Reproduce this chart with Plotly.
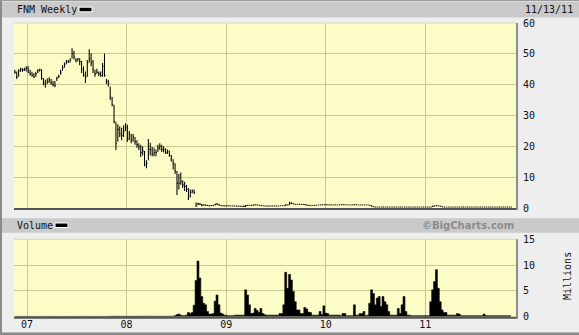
import plotly.graph_objects as go
import pandas as pd

W, H = 579, 335

# ---------------- data (weekly) ----------------
week_start = "2006-11-17"
n_weeks = 261

close = [
    44.0, 42.5, 44.5, 45.0, 44.8, 45.0, 45.3, 44.0, 43.5, 43.0,
    42.5, 43.5, 44.5, 44.8, 42.0, 40.5, 40.0, 41.0, 41.5, 40.5,
    40.0, 39.8, 42.0, 42.7, 44.0, 45.5, 46.5, 47.3, 47.5, 48.0,
    50.0, 49.0, 48.0, 48.5, 47.5, 45.0, 43.0, 42.5, 47.0, 48.5,
    47.0, 45.0, 43.5, 44.0, 43.5, 43.0, 46.0, 43.0, 41.0, 40.5,
    36.0, 33.5, 28.0, 21.0, 25.5, 24.0, 23.5, 25.0, 26.0, 22.5,
    24.0, 22.0, 23.0, 21.5, 20.5, 19.8, 18.0, 18.5, 14.0, 14.5,
    19.0, 19.0, 17.5, 18.0, 18.0, 19.5, 20.0, 19.0, 19.0, 18.0,
    18.5, 17.0, 16.0, 14.5, 12.0, 8.0, 8.0, 8.5, 7.5, 7.0,
    6.0, 3.5, 5.0, 5.5, 5.0, 0.7, 1.4, 1.2, 0.9, 1.0,
    0.9, 0.8, 0.7, 0.8, 0.9, 1.2, 1.3, 1.0, 0.75, 0.7,
    0.7, 0.72, 0.7, 0.65, 0.65, 0.62, 0.65, 0.6, 0.6, 0.55,
    0.5, 0.8, 0.9, 0.9, 0.85, 1.0, 1.0, 1.0, 0.9, 0.7,
    0.7, 0.65, 0.65, 0.65, 0.65, 0.65, 0.65, 0.65, 0.65, 0.7,
    0.7, 0.75, 1.0, 1.0, 1.5, 1.5, 1.3, 1.2, 1.2, 1.2,
    1.2, 1.15, 1.1, 0.9, 0.85, 0.8, 0.8, 0.85, 0.9, 0.95,
    1.0, 1.0, 1.05, 1.0, 1.0, 1.0, 1.0, 1.0, 1.0, 1.0,
    1.0, 1.05, 1.05, 1.0, 1.0, 1.0, 1.0, 1.0, 1.1, 1.0,
    1.0, 1.0, 1.0, 1.0, 1.0, 1.0, 0.9, 0.5, 0.35, 0.32,
    0.3, 0.3, 0.3, 0.32, 0.3, 0.3, 0.3, 0.3, 0.3, 0.3,
    0.3, 0.3, 0.32, 0.3, 0.3, 0.3, 0.3, 0.3, 0.3, 0.3,
    0.3, 0.3, 0.3, 0.3, 0.3, 0.3, 0.3, 0.3, 0.32, 0.6,
    0.7, 0.7, 0.7, 0.6, 0.35, 0.3, 0.3, 0.3, 0.3, 0.3,
    0.3, 0.3, 0.3, 0.3, 0.3, 0.3, 0.3, 0.3, 0.3, 0.3,
    0.3, 0.3, 0.3, 0.3, 0.3, 0.3, 0.3, 0.3, 0.3, 0.3,
    0.3, 0.3, 0.3, 0.3, 0.3, 0.3, 0.3, 0.3, 0.3, 0.3,
    0.3,
]

high = [
    44.8, 44.3, 45.0, 45.5, 45.3, 45.5, 46.0, 46.0, 44.8, 44.2,
    43.8, 44.2, 45.0, 45.2, 45.0, 42.2, 41.6, 42.0, 42.4, 41.8,
    41.2, 41.2, 42.6, 43.2, 44.8, 46.3, 47.2, 48.0, 48.0, 48.6,
    51.8, 51.0, 48.6, 48.6, 48.6, 47.7, 45.9, 44.3, 48.0, 51.5,
    50.2, 48.0, 44.8, 45.2, 44.3, 44.3, 47.0, 50.1, 41.8, 41.6,
    39.4, 36.0, 33.5, 28.0, 27.2, 26.5, 26.0, 26.8, 27.5, 27.0,
    25.0, 24.0, 24.0, 23.0, 22.0, 21.0, 20.5, 20.0, 18.5, 15.5,
    22.4, 21.2, 19.8, 19.5, 19.0, 20.5, 21.0, 20.5, 20.0, 19.4,
    19.0, 18.6, 17.2, 15.8, 14.5, 12.0, 11.0, 11.5, 9.0, 8.5,
    7.5, 6.5, 6.0, 6.0, 6.0, 1.8, 1.7, 1.6, 1.3, 1.2,
    1.1, 1.0, 0.9, 0.95, 1.0, 1.4, 1.6, 1.3, 0.9, 0.8,
    0.8, 0.8, 0.8, 0.75, 0.75, 0.7, 0.7, 0.7, 0.7, 0.65,
    0.8, 1.0, 1.0, 1.0, 1.0, 1.1, 1.1, 1.1, 1.0, 0.9,
    0.75, 0.7, 0.7, 0.7, 0.7, 0.7, 0.7, 0.7, 0.7, 0.75,
    0.75, 0.8, 1.2, 1.1, 2.0, 1.9, 1.5, 1.3, 1.3, 1.3,
    1.3, 1.2, 1.2, 1.1, 0.95, 0.9, 0.85, 0.9, 0.95, 1.0,
    1.05, 1.1, 1.1, 1.2, 1.1, 1.1, 1.1, 1.05, 1.1, 1.05,
    1.05, 1.1, 1.1, 1.1, 1.05, 1.05, 1.05, 1.05, 1.2, 1.1,
    1.05, 1.05, 1.05, 1.05, 1.05, 1.05, 1.0, 0.9, 0.5, 0.4,
    0.35, 0.35, 0.35, 0.38, 0.35, 0.35, 0.35, 0.35, 0.35, 0.35,
    0.35, 0.35, 0.4, 0.35, 0.35, 0.35, 0.35, 0.35, 0.35, 0.35,
    0.35, 0.35, 0.35, 0.35, 0.35, 0.35, 0.35, 0.35, 0.4, 0.7,
    0.8, 0.8, 0.8, 0.7, 0.6, 0.35, 0.35, 0.35, 0.35, 0.35,
    0.35, 0.35, 0.35, 0.35, 0.35, 0.4, 0.35, 0.35, 0.35, 0.35,
    0.35, 0.35, 0.35, 0.35, 0.35, 0.35, 0.35, 0.35, 0.35, 0.35,
    0.35, 0.35, 0.35, 0.35, 0.38, 0.35, 0.35, 0.35, 0.35, 0.35,
    0.35,
]

low = [
    43.5, 41.8, 42.6, 44.2, 44.2, 44.4, 44.3, 43.8, 43.0, 42.6,
    42.2, 42.6, 43.8, 44.3, 41.6, 39.8, 39.0, 40.2, 40.5, 40.0,
    39.4, 39.2, 41.2, 42.2, 43.2, 44.5, 45.5, 46.6, 47.0, 47.2,
    48.5, 48.2, 47.2, 47.5, 46.3, 43.8, 42.6, 40.5, 42.6, 47.2,
    46.0, 43.8, 42.6, 43.5, 42.8, 42.6, 42.6, 42.6, 40.2, 39.4,
    35.0, 33.0, 27.5, 18.8, 21.5, 23.0, 22.0, 23.0, 25.0, 21.5,
    22.0, 21.0, 21.5, 20.5, 19.5, 18.8, 16.5, 17.0, 13.5, 12.9,
    15.5, 17.0, 16.8, 16.8, 16.8, 18.2, 18.8, 18.2, 18.0, 17.5,
    17.5, 16.6, 15.0, 12.5, 11.0, 4.2, 6.0, 7.5, 6.5, 5.5,
    5.2, 2.6, 3.5, 4.8, 4.5, 0.4, 0.9, 1.0, 0.6, 0.8,
    0.7, 0.65, 0.6, 0.65, 0.75, 0.8, 1.0, 0.8, 0.65, 0.6,
    0.6, 0.6, 0.6, 0.58, 0.58, 0.55, 0.55, 0.52, 0.5, 0.45,
    0.35, 0.35, 0.75, 0.8, 0.75, 0.85, 0.9, 0.9, 0.8, 0.65,
    0.62, 0.6, 0.6, 0.6, 0.6, 0.6, 0.6, 0.6, 0.6, 0.62,
    0.62, 0.65, 0.75, 0.9, 1.0, 1.3, 1.2, 1.1, 1.1, 1.1,
    1.1, 1.05, 1.0, 0.85, 0.78, 0.75, 0.75, 0.78, 0.82, 0.88,
    0.95, 0.95, 0.98, 0.95, 0.95, 0.95, 0.95, 0.95, 0.95, 0.95,
    0.95, 0.98, 0.98, 0.95, 0.95, 0.95, 0.95, 0.95, 1.0, 0.95,
    0.95, 0.95, 0.95, 0.95, 0.95, 0.95, 0.8, 0.45, 0.3, 0.28,
    0.27, 0.27, 0.27, 0.28, 0.27, 0.27, 0.27, 0.27, 0.27, 0.27,
    0.27, 0.27, 0.28, 0.27, 0.27, 0.27, 0.27, 0.27, 0.27, 0.27,
    0.27, 0.27, 0.27, 0.27, 0.27, 0.27, 0.27, 0.27, 0.28, 0.3,
    0.55, 0.6, 0.6, 0.45, 0.3, 0.27, 0.27, 0.27, 0.27, 0.27,
    0.27, 0.27, 0.27, 0.27, 0.27, 0.27, 0.27, 0.27, 0.27, 0.27,
    0.27, 0.27, 0.27, 0.27, 0.27, 0.27, 0.27, 0.27, 0.27, 0.27,
    0.27, 0.27, 0.27, 0.27, 0.27, 0.27, 0.27, 0.27, 0.27, 0.27,
    0.27,
]

volume = [  # millions
    0.05, 0.05, 0.06, 0.05, 0.05, 0.05, 0.06, 0.05, 0.05, 0.05,
    0.05, 0.05, 0.05, 0.06, 0.05, 0.06, 0.06, 0.05, 0.05, 0.05,
    0.05, 0.05, 0.05, 0.05, 0.05, 0.05, 0.05, 0.06, 0.05, 0.05,
    0.06, 0.05, 0.05, 0.05, 0.05, 0.06, 0.06, 0.06, 0.05, 0.05,
    0.05, 0.05, 0.05, 0.05, 0.05, 0.05, 0.05, 0.06, 0.06, 0.06,
    0.07, 0.07, 0.08, 0.1, 0.08, 0.07, 0.07, 0.07, 0.07, 0.08,
    0.07, 0.07, 0.07, 0.07, 0.07, 0.08, 0.1, 0.08, 0.1, 0.1,
    0.1, 0.08, 0.08, 0.08, 0.08, 0.08, 0.08, 0.08, 0.08, 0.08,
    0.1, 0.1, 0.1, 0.1, 0.2, 0.4, 0.5, 0.3, 0.2, 0.2,
    0.3, 0.8, 0.6, 0.8, 2.2, 7.0, 10.8, 7.5, 3.9, 2.6,
    2.3, 1.0, 0.5, 0.5, 0.6, 3.0, 4.2, 2.3, 0.7, 0.5,
    0.3, 0.25, 0.2, 0.2, 0.2, 0.25, 0.3, 0.3, 0.3, 0.3,
    0.3, 5.2, 4.2, 2.3, 0.6, 0.7, 1.6, 1.2, 0.8, 1.6,
    0.6, 0.4, 0.3, 0.3, 0.3, 0.3, 0.3, 0.3, 0.3, 0.6,
    0.6, 2.3, 8.6, 5.5, 8.2, 7.1, 4.9, 2.9, 1.3, 1.3,
    0.6, 0.6, 1.8, 1.5, 0.9, 0.8, 0.3, 0.3, 0.3, 0.3,
    1.0, 0.4, 2.1, 0.7, 0.6, 0.3, 0.3, 0.3, 0.3, 0.3,
    0.3, 0.2, 0.6, 0.6, 0.2, 0.2, 0.2, 0.2, 2.3, 0.3,
    0.3, 0.6, 0.6, 1.0, 0.2, 0.3, 2.6, 5.2, 4.5, 2.3,
    3.6, 3.9, 2.0, 3.9, 2.9, 2.3, 1.0, 0.3, 0.3, 0.3,
    0.3, 1.6, 0.6, 2.3, 3.9, 1.0, 0.3, 0.3, 0.2, 0.2,
    0.2, 0.2, 0.2, 0.2, 0.2, 0.2, 0.2, 0.2, 2.9, 5.2,
    6.8, 9.1, 5.5, 2.9, 1.3, 0.8, 0.8, 0.3, 0.3, 0.3,
    0.3, 0.3, 0.6, 0.5, 0.2, 0.2, 0.2, 0.2, 0.2, 0.2,
    0.2, 0.2, 0.2, 0.2, 0.2, 0.2, 0.5, 0.2, 0.2, 0.2,
    0.2, 0.2, 0.2, 0.2, 0.2, 0.2, 0.2, 0.2, 0.2, 0.2,
    0.2,
]

year_ticks = ["2007-01-01", "2008-01-01", "2009-01-01", "2010-01-01", "2011-01-01"]
year_labels = ["07", "08", "09", "10", "11"]
price_ticks = [0, 10, 20, 30, 40, 50, 60]
vol_ticks = [0, 5, 10, 15]
x_range = ["2006-11-14", "2011-11-30"]

# ---------------- build ----------------
dates = pd.date_range(week_start, periods=n_weeks, freq="7D")
tick_len = pd.Timedelta(days=3.5)

xs, ys = [], []
for d, h, l, c in zip(dates, high, low, close):
    xs += [d, d, None, d, d + tick_len, None]
    ys += [l, h, None, c, c, None]

MONO = "DejaVu Sans Mono"
BG = "#eeeeee"
PLOT_BG = "#fcfcc6"
GRID = "#c8c890"
BAR = "#cacaca"


def px(x):
    return x / W


def py(y):
    return 1 - y / H


fig = go.Figure()
fig.add_trace(go.Scatter(x=xs, y=ys, mode="lines", line=dict(color="black", width=1.05),
                         xaxis="x", yaxis="y", hoverinfo="skip", showlegend=False))
fig.add_trace(go.Scatter(x=dates, y=volume, mode="lines", line=dict(color="black", width=0.6, shape="hvh"),
                         fill="tozeroy", fillcolor="black",
                         xaxis="x2", yaxis="y2", hoverinfo="skip", showlegend=False))

xdom = [px(14), px(516)]
common_x = dict(range=x_range, type="date", tickvals=year_ticks, showgrid=True, gridcolor=GRID,
                gridwidth=1, zeroline=False, showline=False, ticks="", domain=xdom, automargin=False)
tickfont = dict(family=MONO, size=10, color="#111")
fig.update_layout(
    width=W, height=H, margin=dict(l=0, r=0, t=0, b=0, pad=0, autoexpand=False),
    paper_bgcolor=BG, plot_bgcolor=PLOT_BG, template="none",
    xaxis=dict(**common_x, anchor="y", showticklabels=False),
    yaxis=dict(domain=[py(208), py(23)], range=[0, 60], side="right", tickvals=price_ticks,
               showgrid=True, gridcolor=GRID, zeroline=False, ticks="outside", ticklen=4,
               tickcolor="rgba(0,0,0,0)", tickfont=tickfont, anchor="x", automargin=False,
               showline=False),
    xaxis2=dict(**common_x, anchor="y2", ticktext=year_labels, showticklabels=True, tickfont=tickfont),
    yaxis2=dict(domain=[py(316.7), py(239.3)], range=[0, 15], side="right", tickvals=vol_ticks,
                showgrid=True, gridcolor=GRID, zeroline=False, ticks="outside", ticklen=4,
                tickcolor="rgba(0,0,0,0)", tickfont=tickfont, anchor="x2", automargin=False,
                showline=False),
)

shapes = []
# header bars
shapes.append(dict(type="rect", xref="paper", yref="paper", x0=px(2), x1=1, y0=py(17.5), y1=py(1.5),
                   fillcolor=BAR, line=dict(width=0), layer="below"))
shapes.append(dict(type="rect", xref="paper", yref="paper", x0=px(2), x1=1, y0=py(232.7), y1=py(218.3),
                   fillcolor=BAR, line=dict(width=0), layer="below"))
# outer borders
shapes.append(dict(type="rect", xref="paper", yref="paper", x0=0, x1=px(2), y0=0, y1=1,
                   fillcolor="#8a8a8a", line=dict(width=0)))
shapes.append(dict(type="rect", xref="paper", yref="paper", x0=0, x1=1, y0=py(1), y1=1,
                   fillcolor="#9a9a9a", line=dict(width=0)))
shapes.append(dict(type="rect", xref="paper", yref="paper", x0=0, x1=1, y0=0, y1=py(332.5),
                   fillcolor="#8a8a8a", line=dict(width=0)))
# legend swatches
shapes.append(dict(type="rect", xref="paper", yref="paper", x0=px(79), x1=px(92), y0=py(11.8), y1=py(7.2),
                   fillcolor="black", line=dict(color="white", width=1)))
shapes.append(dict(type="rect", xref="paper", yref="paper", x0=px(55), x1=px(68), y0=py(227.5), y1=py(223),
                   fillcolor="black", line=dict(color="white", width=1)))
# plot frame shadows
for top, bot in [(23, 208), (239.3, 316.7)]:
    shapes.append(dict(type="line", xref="paper", yref="paper", x0=px(14), x1=px(518), y0=py(bot + 1),
                       y1=py(bot + 1), line=dict(color="#555555", width=2)))
    shapes.append(dict(type="line", xref="paper", yref="paper", x0=px(517), x1=px(517), y0=py(bot + 2),
                       y1=py(top), line=dict(color="#8c8c8c", width=2)))
    shapes.append(dict(type="line", xref="paper", yref="paper", x0=px(14), x1=px(516), y0=py(top),
                       y1=py(top), line=dict(color="#d8d8b0", width=1)))
fig.update_layout(shapes=shapes)

ann = [
    dict(text="FNM Weekly", x=px(15), y=py(10), xanchor="left", yanchor="middle", font=tickfont),
    dict(text="11/13/11", x=px(523), y=py(10), xanchor="left", yanchor="middle", font=tickfont),
    dict(text="Volume", x=px(15), y=py(225.7), xanchor="left", yanchor="middle", font=tickfont),
    dict(text="<b>©BigCharts.com</b>", x=px(516), y=py(225.7), xanchor="right", yanchor="middle",
         font=dict(family="DejaVu Sans", size=10, color="#8c8c8c")),
    dict(text="Millions", x=px(567), y=py(276), xanchor="center", yanchor="middle", textangle=-90,
         font=tickfont),
]
for a in ann:
    a.update(xref="paper", yref="paper", showarrow=False)
fig.update_layout(annotations=ann)

fig.write_html("out.html")
